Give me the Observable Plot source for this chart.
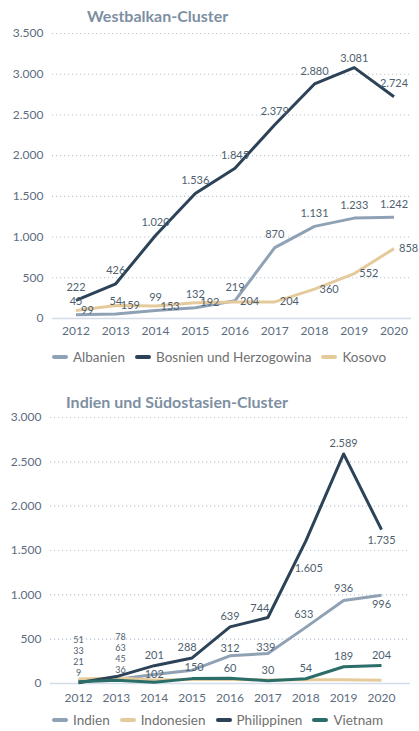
<!DOCTYPE html>
<html>
<head>
<meta charset="utf-8">
<script src="https://cdn.jsdelivr.net/npm/d3@7"></script>
<script src="https://cdn.jsdelivr.net/npm/@observablehq/plot@0.6"></script>
<style>
  html, body { margin: 0; padding: 0; background: #fff; }
  body { width: 419px; height: 731px; position: relative; font-family: Lato, "Open Sans", sans-serif; overflow: hidden; }
  .title { position: absolute; font-weight: 700; font-size: 16px; color: #7d8fa2; white-space: nowrap; }
  .chart { position: absolute; left: 0; }
  .legend { position: absolute; left: 52px; display: flex; align-items: center; font-size: 13.5px; color: #707070; white-space: nowrap; }
  .legend .item { display: flex; align-items: center; margin-right: 10px; }
  .legend .sw { display: inline-block; width: 16px; height: 4px; border-radius: 2px; margin-right: 5px; }
</style>
</head>
<body>
<div class="title" id="t1" style="left:87px; top:6px;"></div>
<div class="chart" id="c1" style="top:25px;"></div>
<div class="legend" id="l1" style="top:349px;"></div>
<div class="title" id="t2" style="left:66px; top:392px;"></div>
<div class="chart" id="c2" style="top:409px;"></div>
<div class="legend" id="l2" style="top:712px;"></div>
<script>
// ---- data ----
const years = [2012, 2013, 2014, 2015, 2016, 2017, 2018, 2019, 2020];

const title1 = "Westbalkan-Cluster";
const series1 = ["Albanien", "Bosnien und Herzogowina", "Kosovo"];
const albanien = [45, 54, 99, 132, 219, 870, 1131, 1233, 1242];
const bosnien = [222, 426, 1020, 1536, 1845, 2379, 2880, 3081, 2724];
const kosovo = [99, 159, 153, 192, 204, 204, 360, 552, 858];
const yTicks1 = [0, 500, 1000, 1500, 2000, 2500, 3000, 3500];

const title2 = "Indien und Südostasien-Cluster";
const series2 = ["Indien", "Indonesien", "Philippinen", "Vietnam"];
const indien = [33, 45, 102, 150, 312, 339, 633, 936, 996];
const indonesien = [51, 63, 40, 45, 45, 40, 42, 42, 38];
const philippinen = [9, 78, 201, 288, 639, 744, 1605, 2589, 1735];
const vietnam = [21, 36, 15, 55, 60, 30, 54, 189, 204];
const yTicks2 = [0, 500, 1000, 1500, 2000, 2500, 3000];

// ---- styling ----
const colors1 = ["#8fa2b5", "#2c4257", "#e5cb9c"];
const colors2 = ["#8fa2b5", "#e5cb9c", "#2c4257", "#2b6e69"];
const de = d3.formatLocale({decimal: ",", thousands: ".", grouping: [3], currency: ["", " €"]});
const fmt = de.format(",d");
const axisColor = "#5c6d7f";
const labelColor = "#4f5f70";

function toRows(names, arrays) {
  const rows = [];
  names.forEach((s, i) => arrays[i].forEach((v, j) => rows.push({series: s, year: years[j], value: v})));
  return rows;
}

const rows1 = toRows(series1, [albanien, bosnien, kosovo]);
const rows2 = toRows(series2, [indien, indonesien, philippinen, vietnam]);

function baseMarks(rows, yt, xPad) {
  return [
    Plot.ruleY(yt.filter(d => d > 0), {stroke: "#b9c6d4", strokeDasharray: "1.2,2.8", strokeWidth: 1.1}),
    Plot.ruleY([0], {stroke: "#d3dcea", strokeWidth: 1.6}),
    Plot.axisY({ticks: yt, tickFormat: fmt, tickSize: 0, tickPadding: 9, fontSize: 12, color: axisColor, label: null}),
    Plot.axisX({ticks: years, tickFormat: d => String(d), tickSize: 0, tickPadding: xPad, fontSize: 12, color: axisColor, label: null}),
    Plot.lineY(rows, {x: "year", y: "value", z: "series", stroke: "series", strokeWidth: 3, strokeLinejoin: "round", strokeLinecap: "butt"})
  ];
}

// label mark helper: one text mark per label so each can carry its own offset
function labelMark(d, opt) {
  return Plot.text([d], {x: "year", y: "value", text: r => fmt(r.value), fill: labelColor, fontSize: 11,
    dx: opt.dx || 0, dy: opt.dy || 0, textAnchor: opt.anchor || "middle"});
}

// ---- chart 1 ----
const marks1 = baseMarks(rows1, yTicks1, 8);
rows1.forEach(d => {
  if (d.series === "Kosovo") marks1.push(labelMark(d, {dx: 5, dy: 0, anchor: "start"}));
  else if (d.series === "Bosnien und Herzogowina" && d.year === 2019) marks1.push(labelMark(d, {dy: -9}));
  else marks1.push(labelMark(d, {dy: -13}));
});

const chart1 = Plot.plot({
  width: 419, height: 320,
  marginLeft: 52, marginRight: 8, marginTop: 8, marginBottom: 27,
  x: {type: "linear", domain: [2012, 2020], insetLeft: 23.5, insetRight: 17.5},
  y: {domain: [0, 3500]},
  color: {domain: series1, range: colors1},
  style: {fontFamily: "Lato, 'Open Sans', sans-serif", background: "transparent"},
  marks: marks1
});
document.getElementById("c1").append(chart1);

// ---- chart 2 ----
const marks2 = baseMarks(rows2, yTicks2, 10);
const stackYears = [2012, 2013];
// stacked labels for the crowded first years
stackYears.forEach(yr => {
  const pts = rows2.filter(d => d.year === yr).sort((a, b) => a.value - b.value);
  const base = pts[0].value;
  pts.forEach((p, r) => {
    marks2.push(Plot.text([p], {x: "year", y: () => base, text: q => fmt(q.value), fill: labelColor, fontSize: 9,
      dy: -10 - 11 * r, dx: yr === 2013 ? 4 : 0}));
  });
});
const special2 = {
  "Philippinen-2018": {dx: 3, dy: 27},
  "Philippinen-2020": {dy: 11},
  "Philippinen-2017": {dx: -8, dy: -9},
  "Philippinen-2015": {dx: -5, dy: -10},
  "Indien-2020": {dy: 9},
  "Indien-2014": {dy: 0},
  "Indien-2015": {dx: 2, dy: -3},
  "Indien-2016": {dy: -7},
  "Indien-2017": {dx: -2, dy: -6},
  "Indien-2018": {dx: -2, dy: -13},
  "Indien-2019": {dy: -12}
};
rows2.forEach(d => {
  if (stackYears.includes(d.year)) return;
  if (d.series === "Indonesien") return;
  if (d.series === "Vietnam" && d.year < 2016) return;
  const o = special2[d.series + "-" + d.year] || {dy: -10};
  marks2.push(labelMark(d, o));
});

const chart2 = Plot.plot({
  width: 419, height: 300,
  marginLeft: 50, marginRight: 9, marginTop: 8, marginBottom: 26,
  x: {type: "linear", domain: [2012, 2020], insetLeft: 28, insetRight: 29},
  y: {domain: [0, 3000]},
  color: {domain: series2, range: colors2},
  style: {fontFamily: "Lato, 'Open Sans', sans-serif", background: "transparent"},
  marks: marks2
});
document.getElementById("c2").append(chart2);

// ---- titles & legends ----
document.getElementById("t1").textContent = title1;
document.getElementById("t2").textContent = title2;
function legend(el, names, colors) {
  names.forEach((n, i) => {
    const it = document.createElement("span"); it.className = "item";
    const sw = document.createElement("span"); sw.className = "sw"; sw.style.background = colors[i];
    const tx = document.createElement("span"); tx.textContent = n;
    it.append(sw, tx); el.append(it);
  });
}
legend(document.getElementById("l1"), series1, colors1);
legend(document.getElementById("l2"), series2, colors2);
</script>
</body>
</html>
